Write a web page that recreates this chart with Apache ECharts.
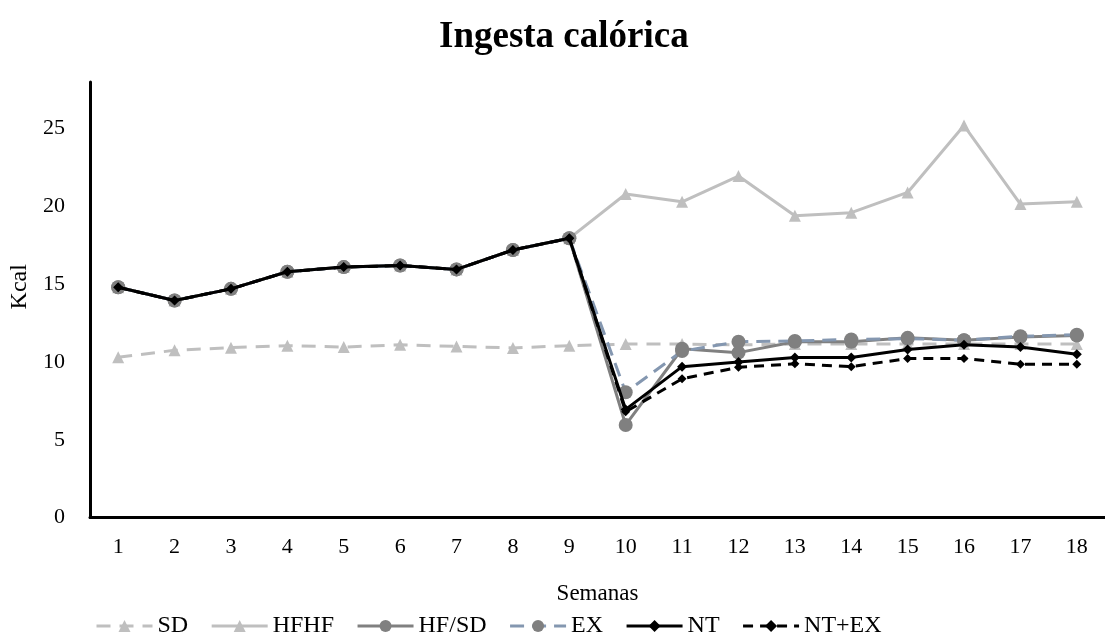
<!DOCTYPE html>
<html>
<head>
<meta charset="utf-8">
<script src="https://cdn.jsdelivr.net/npm/echarts@6/dist/echarts.min.js"></script>
<style>
html,body{margin:0;padding:0;background:#fff;}
#chart{width:1105px;height:640px;}
</style>
</head>
<body>
<div id="chart"></div>
<script>
const weeks = ['1','2','3','4','5','6','7','8','9','10','11','12','13','14','15','16','17','18'];
const SD    = [10.3,10.75,10.92,11.05,10.96,11.1,11.0,10.9,11.05,11.15,11.15,11.1,11.15,11.15,11.15,11.15,11.15,11.15];
const HFHF  = [14.8,13.95,14.7,15.8,16.1,16.2,15.95,17.2,17.95,20.8,20.3,21.95,19.4,19.6,20.9,25.2,20.15,20.3];
const HFSD  = [14.8,13.95,14.7,15.8,16.1,16.2,15.95,17.2,17.95,5.95,10.85,10.6,11.3,11.3,11.55,11.4,11.6,11.7];
const EX    = [14.8,13.95,14.7,15.8,16.1,16.2,15.95,17.2,17.95,8.05,10.7,11.3,11.35,11.45,11.5,11.4,11.65,11.75];
const NT    = [14.8,13.95,14.7,15.8,16.1,16.2,15.95,17.2,17.95,6.95,9.7,10.0,10.28,10.28,10.8,11.1,10.96,10.5];
const NTEX  = [14.8,13.95,14.7,15.8,16.1,16.2,15.95,17.2,17.95,6.8,8.92,9.66,9.88,9.7,10.22,10.22,9.85,9.85];
const yTicks = [0,5,10,15,20,25];

const FONT = '"Liberation Serif", "Times New Roman", serif';
const chart = echarts.init(document.getElementById('chart'));

function mk(name, data, color, lineType, symbol, symSize, symColor, z) {
  return {
    name: name, type: 'line', data: data, z: z,
    symbol: symbol, symbolSize: symSize,
    lineStyle: {color: color, width: 3, type: lineType},
    itemStyle: {color: symColor},
    emphasis: {disabled: true},
    animation: false
  };
}

chart.setOption({
  animation: false,
  title: {
    text: 'Ingesta calórica',
    left: 434, top: 14,
    textStyle: {fontFamily: FONT, fontSize: 37, fontWeight: 'bold', color: '#000'}
  },
  grid: {left: 90, top: 82, width: 1024, height: 435.5},
  legend: {
    left: 90, top: 609,
    itemWidth: 56, itemHeight: 15, itemGap: 22,
    lineStyle: {width: 3},
    textStyle: {fontFamily: FONT, fontSize: 24, color: '#000'},
    data: ['SD','HFHF','HF/SD','EX','NT','NT+EX']
  },
  xAxis: {
    type: 'category', data: weeks, boundaryGap: true,
    name: 'Semanas', nameLocation: 'middle', nameGap: 65,
    nameTextStyle: {fontFamily: FONT, fontSize: 23, color: '#000'},
    axisLine: {lineStyle: {color: '#000', width: 3}},
    axisTick: {show: false},
    axisLabel: {fontFamily: FONT, fontSize: 22, color: '#000', margin: 19}
  },
  yAxis: {
    type: 'value', min: 0, max: 28, interval: 5,
    name: 'Kcal', nameLocation: 'middle', nameGap: 55, nameRotate: 90,
    nameTextStyle: {fontFamily: FONT, fontSize: 24, color: '#000', padding: [0, 0, 0, 26]},
    axisLine: {show: true, lineStyle: {color: '#000', width: 3}},
    axisTick: {show: false},
    splitLine: {show: false},
    axisLabel: {
      fontFamily: FONT, fontSize: 22, color: '#000', margin: 25, showMaxLabel: false,
      formatter: function (v) { return yTicks.indexOf(v) >= 0 ? String(v) : ''; }
    }
  },
  series: [
    mk('SD', SD, '#BFBFBF', [14, 9], 'triangle', 12, '#BFBFBF', 2),
    mk('HFHF', HFHF, '#BFBFBF', 'solid', 'triangle', 12, '#BFBFBF', 3),
    mk('HF/SD', HFSD, '#808080', 'solid', 'circle', 14, '#808080', 4),
    mk('EX', EX, '#8497B0', [14, 8], 'circle', 14, '#808080', 5),
    mk('NT', NT, '#000000', 'solid', 'diamond', 10, '#000000', 6),
    mk('NT+EX', NTEX, '#000000', [10, 7], 'diamond', 9, '#000000', 7)
  ]
});
</script>
</body>
</html>
